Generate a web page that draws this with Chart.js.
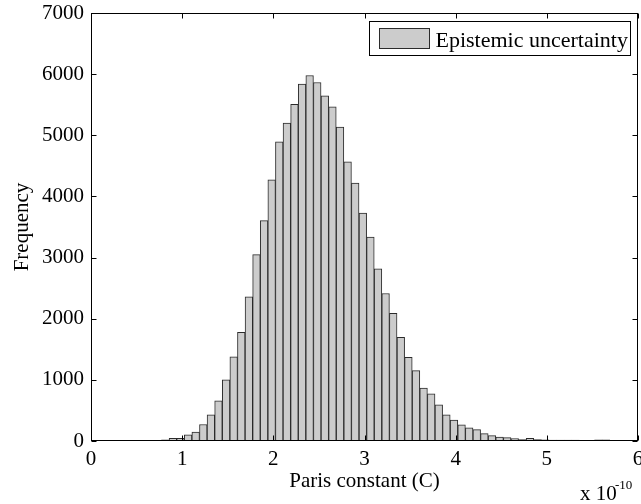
<!DOCTYPE html>
<html>
<head>
<meta charset="utf-8">
<script src="https://cdn.jsdelivr.net/npm/chart.js@4/dist/chart.umd.min.js"></script>
<style>
  html, body { margin: 0; padding: 0; background: #fff; }
  #wrap { width: 641px; height: 504px; }
</style>
</head>
<body>
<div id="wrap"><canvas id="hist"></canvas></div>
<script>
// histogram bins (x 1e-10), bin centres
const binCenters = [
  0.7317, 0.8150, 0.8983, 0.9817, 1.0650, 1.1483, 1.2317, 1.3150, 1.3983, 1.4817,
  1.5650, 1.6483, 1.7317, 1.8150, 1.8983, 1.9817, 2.0650, 2.1483, 2.2317, 2.3150,
  2.3983, 2.4817, 2.5650, 2.6483, 2.7317, 2.8150, 2.8983, 2.9817, 3.0650, 3.1483,
  3.2317, 3.3150, 3.3983, 3.4817, 3.5650, 3.6483, 3.7317, 3.8150, 3.8983, 3.9817,
  4.0650, 4.1483, 4.2317, 4.3150, 4.3983, 4.4817, 4.5650, 4.6483, 4.7317, 4.8150,
  4.8983, 4.9817, 5.0650, 5.1483, 5.2317, 5.3150, 5.3983, 5.4817, 5.5650, 5.6483
];
const frequency = [
  8, 20, 42, 45, 100, 145, 270, 429, 658, 1000,
  1375, 1777, 2359, 3049, 3603, 4272, 4891, 5201, 5505, 5837,
  5978, 5864, 5647, 5467, 5136, 4565, 4217, 3728, 3337, 2815,
  2413, 2087, 1696, 1370, 1152, 864, 772, 592, 429, 342,
  266, 217, 185, 120, 87, 65, 54, 38, 25, 45,
  25, 18, 16, 16, 16, 16, 6, 2, 18, 18
];
const xTicks = [0, 1, 2, 3, 4, 5, 6];
const yTicks = [0, 1000, 2000, 3000, 4000, 5000, 6000, 7000];
const seriesName = 'Epistemic uncertainty';

const FONT = '"Liberation Serif", "Times New Roman", serif';
const BAR_FILL = '#cccccc';
const BAR_EDGE = '#2b2b2b';

// MATLAB-like box with inward ticks, legend box and the x10^-10 multiplier
const matlabFrame = {
  id: 'matlabFrame',
  afterDatasetsDraw(chart) {
    const { ctx, chartArea: a, scales: { x, y } } = chart;
    const L = Math.round(a.left) + 0.5, R = Math.round(a.right) - 0.5;
    const T = Math.round(a.top) + 0.5, B = Math.round(a.bottom) - 0.5;
    ctx.save();
    ctx.strokeStyle = '#000';
    ctx.lineWidth = 1;
    ctx.strokeRect(L, T, R - L, B - T);
    ctx.beginPath();
    xTicks.forEach(v => {
      const px = Math.round(x.getPixelForValue(v)) + 0.5;
      ctx.moveTo(px, B); ctx.lineTo(px, B - 5);
      ctx.moveTo(px, T); ctx.lineTo(px, T + 5);
    });
    yTicks.forEach(v => {
      const py = Math.round(y.getPixelForValue(v)) + 0.5;
      ctx.moveTo(L, py); ctx.lineTo(L + 5, py);
      ctx.moveTo(R, py); ctx.lineTo(R - 5, py);
    });
    ctx.stroke();
    ctx.restore();
  },
  afterDraw(chart) {
    const { ctx, chartArea: a } = chart;
    ctx.save();
    // legend
    const bw = 261, bh = 34;
    const bx = Math.round(a.right) - 8 - bw + 0.5, by = Math.round(a.top) + 8.5;
    ctx.fillStyle = '#fff';
    ctx.fillRect(bx, by, bw, bh);
    ctx.strokeStyle = '#000';
    ctx.lineWidth = 1;
    ctx.strokeRect(bx, by, bw, bh);
    ctx.fillStyle = BAR_FILL;
    ctx.fillRect(bx + 10, by + 7, 50, 20);
    ctx.strokeStyle = BAR_EDGE;
    ctx.strokeRect(bx + 10, by + 7, 50, 20);
    ctx.fillStyle = '#000';
    ctx.font = '22px ' + FONT;
    ctx.textBaseline = 'alphabetic';
    ctx.textAlign = 'left';
    ctx.fillText(seriesName, bx + 66, by + 25);
    // exponent label
    ctx.font = '21px ' + FONT;
    ctx.fillText('x 10', 580, 500);
    ctx.font = '13px ' + FONT;
    ctx.fillText('-10', 615, 489);
    ctx.restore();
  }
};

new Chart(document.getElementById('hist'), {
  type: 'bar',
  data: {
    datasets: [{
      label: seriesName,
      data: binCenters.map((c, i) => ({ x: c, y: frequency[i] })),
      backgroundColor: BAR_FILL,
      borderColor: BAR_EDGE,
      borderWidth: 1,
      borderSkipped: false,
      barPercentage: 1,
      categoryPercentage: 1
    }]
  },
  options: {
    responsive: true,
    maintainAspectRatio: false,
    animation: false,
    layout: { padding: { top: 13, right: 3, bottom: 0, left: 0 } },
    plugins: { legend: { display: false }, tooltip: { enabled: false } },
    scales: {
      x: {
        type: 'linear',
        offset: false,
        min: xTicks[0], max: xTicks[xTicks.length - 1],
        grid: { display: false, drawTicks: false },
        border: { display: false },
        ticks: { stepSize: 1, color: '#000', padding: 6, maxRotation: 0, font: { family: FONT, size: 21 },
                 callback: v => String(v) },
        title: { display: true, text: 'Paris constant (C)', color: '#000', font: { family: FONT, size: 21 }, padding: { top: 0, bottom: 10 } },
        afterFit(s) { s.height = 63; s.paddingLeft = 0; s.paddingRight = 0; }
      },
      y: {
        min: yTicks[0], max: yTicks[yTicks.length - 1],
        grid: { display: false, drawTicks: false },
        border: { display: false },
        ticks: { stepSize: 1000, color: '#000', padding: 7, font: { family: FONT, size: 21 },
                 callback: v => String(v) },
        title: { display: true, text: 'Frequency', color: '#000', font: { family: FONT, size: 21 }, padding: { top: 10, bottom: 0 } },
        afterFit(s) { s.width = 91; s.paddingTop = 0; s.paddingBottom = 0; }
      }
    }
  },
  plugins: [matlabFrame]
});
</script>
</body>
</html>
